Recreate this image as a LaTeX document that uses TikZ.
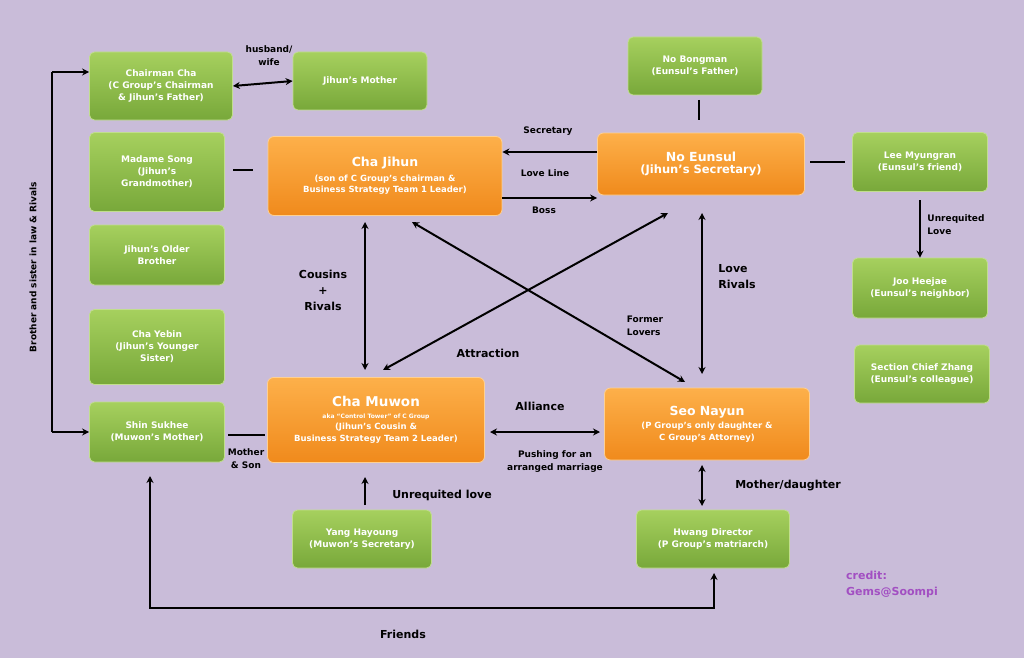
\documentclass[tikz,border=0pt]{standalone}
\usepackage{fontspec}
\setmainfont{DejaVu Sans}
\usetikzlibrary{arrows.meta}
\definecolor{bg}{HTML}{C9BCD9}
\definecolor{gtop}{HTML}{A6D05E}
\definecolor{gbot}{HTML}{78A83A}
\definecolor{otop}{HTML}{FDB04A}
\definecolor{obot}{HTML}{F08A1C}
\definecolor{cred}{HTML}{A24FC2}
\begin{document}
\begin{tikzpicture}[x=1pt,y=-1pt,
 g/.style={rounded corners=5pt,top color=gtop,bottom color=gbot,draw=gtop!70!white,line width=0.8pt,text=white,font=\bfseries\fontsize{9}{12}\selectfont,align=center,inner sep=2pt},
 o/.style={rounded corners=6pt,top color=otop,bottom color=obot,draw=otop!60!white,line width=0.8pt,text=white,font=\bfseries\fontsize{8.5}{11.5}\selectfont,align=center,inner sep=2pt},
 c/.style={line width=2pt,-{Stealth[length=7pt,width=7pt]}},
 cc/.style={line width=2pt,{Stealth[length=7pt,width=7pt]}-{Stealth[length=7pt,width=7pt]}},
 l/.style={line width=2pt},
 lb/.style={font=\bfseries\fontsize{9}{13}\selectfont,align=center},
 lbb/.style={font=\bfseries\fontsize{11}{16}\selectfont,align=center}]
\fill[bg] (0,0) rectangle (1024,658);
\useasboundingbox (0,0) rectangle (1024,658);
\node[g,minimum width=143,minimum height=68] (cha) at (161,86) {Chairman Cha\\(C Group's Chairman\\\& Jihun's Father)};
\node[g,minimum width=134,minimum height=58] (mom) at (360,81) {Jihun's Mother};
\node[g,minimum width=135,minimum height=79] (song) at (157,172) {Madame Song\\(Jihun's\\Grandmother)};
\node[g,minimum width=135,minimum height=60] (bro) at (157,255) {Jihun's Older\\Brother};
\node[g,minimum width=135,minimum height=75] (yebin) at (157,347) {Cha Yebin\\(Jihun's Younger\\Sister)};
\node[g,minimum width=135,minimum height=60] (shin) at (157,432) {Shin Sukhee\\(Muwon's Mother)};
\node[o,minimum width=234,minimum height=79] (jihun) at (385,176) {{\fontsize{12.5}{15}\selectfont Cha Jihun}\\[3pt](son of C Group's chairman \&\\Business Strategy Team 1 Leader)};
\node[o,minimum width=217,minimum height=85] (muwon) at (376,420) {{\fontsize{13.5}{15}\selectfont Cha Muwon}\\{\fontsize{6}{8}\selectfont aka ``Control Tower'' of C Group}\\(Jihun's Cousin \&\\Business Strategy Team 2 Leader)};
\node[g,minimum width=134,minimum height=58] (bong) at (695,66) {No Bongman\\(Eunsul's Father)};
\node[o,minimum width=207,minimum height=62] (eun) at (701,164) {{\fontsize{12.5}{17}\selectfont No Eunsul}\\{\fontsize{11.5}{14}\selectfont (Jihun's Secretary)}};
\node[g,minimum width=135,minimum height=59] (lee) at (920,162) {Lee Myungran\\(Eunsul's friend)};
\node[g,minimum width=135,minimum height=60] (joo) at (920,288) {Joo Heejae\\(Eunsul's neighbor)};
\node[g,minimum width=135,minimum height=58] (zhang) at (922,374) {Section Chief Zhang\\(Eunsul's colleague)};
\node[o,minimum width=205,minimum height=72] (seo) at (707,424) {{\fontsize{12.5}{15}\selectfont Seo Nayun}\\[2pt](P Group's only daughter \&\\C Group's Attorney)};
\node[g,minimum width=139,minimum height=58] (yang) at (362,539) {Yang Hayoung\\(Muwon's Secretary)};
\node[g,minimum width=153,minimum height=58] (hwang) at (713,539) {Hwang Director\\(P Group's matriarch)};
\coordinate (f1) at (150,608); \coordinate (f2) at (714,608);
\coordinate (b1) at (52,72); \coordinate (b2) at (52,432);
\draw[cc] (cha.east) -- (mom.west);
\node[lb] at (269,56) {husband/\\wife};
\draw[l] (233,170) -- (253,170);
\draw[l] (699,100) -- (699,120);
\draw[l] (810,162) -- (845,162);
\draw[c] (920,200) -- (joo.north);
\node[lb,align=left] at (956,225) {Unrequited\\Love};
\draw[c] (eun.west |- 0,152) -- (jihun.east |- 0,152);
\node[lb] at (548,131) {Secretary};
\node[lb] at (545,173) {Love Line};
\draw[c] (jihun.east |- 0,198) -- (eun.west |- 0,198);
\node[lb] at (544,210) {Boss};
\draw[cc] (365,222) -- (365,370);
\node[lbb] at (323,290) {Cousins\\+\\Rivals};
\draw[cc] (412,222) -- (685,382);
\draw[cc] (668,213) -- (383,370);
\node[lbb] at (488,353) {Attraction};
\draw[cc] (702,213) -- (702,374);
\node[lbb,align=left] at (737,277) {Love\\Rivals};
\node[lb,align=left] at (645,326) {Former\\Lovers};
\draw[cc] (490,432) -- (600,432);
\node[lbb] at (540,406) {Alliance};
\node[lb] at (555,462) {Pushing for an\\arranged marriage};
\draw[l] (228,435) -- (265,435);
\node[lb] at (246,459) {Mother\\\& Son};
\draw[c] (365,505) -- (365,477);
\node[lbb] at (442,495) {Unrequited love};
\draw[cc] (702,465) -- (702,506);
\node[lbb] at (788,486) {Mother/daughter};
\draw[cc] (150,476) -- (f1) -- (f2) -- (714,573);
\node[lbb] at (403,634) {Friends};
\draw[c] (b1) -- (cha.west |- b1);
\draw[l] (b1) -- (b2);
\draw[c] (b2) -- (shin.west);
\node[lb,rotate=90] at (33,267) {Brother and sister in law \& Rivals};
\node[lbb,text=cred,align=left] at (892,584) {credit:\\Gems@Soompi};
\end{tikzpicture}
\end{document}
